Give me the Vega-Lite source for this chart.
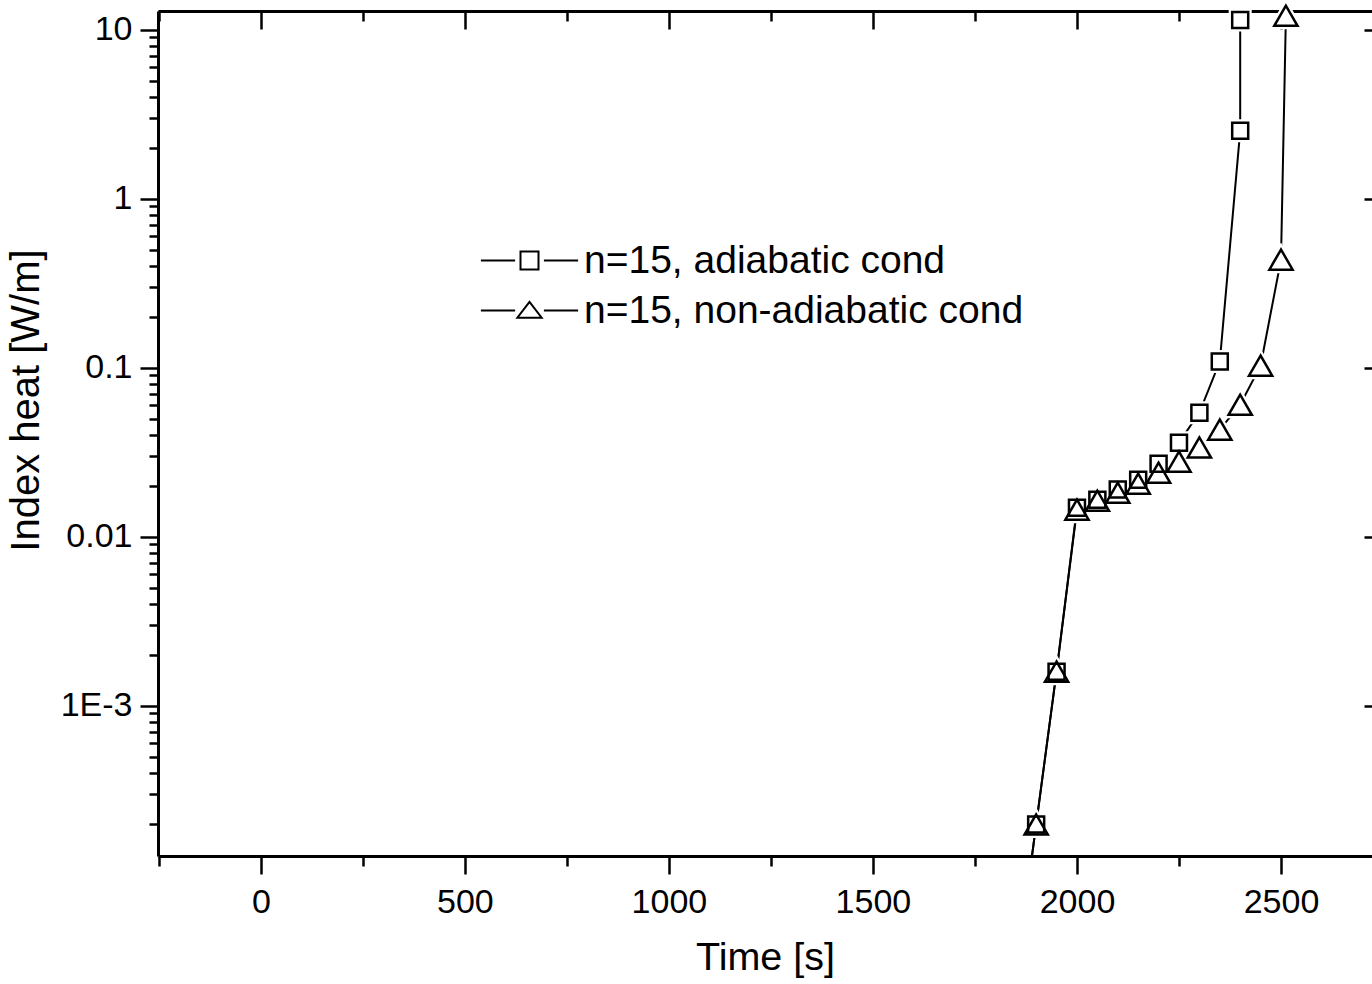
{
  "$schema": "https://vega.github.io/schema/vega-lite/v6.json",
  "width": 1214,
  "height": 845,
  "autosize": {"type": "none"},
  "padding": {"left": 158, "top": 11, "right": 0, "bottom": 128},
  "background": "white",
  "config": {
    "view": {"stroke": null},
    "font": "Liberation Sans",
    "axis": {
      "grid": false,
      "domainColor": "black",
      "tickColor": "black",
      "labelColor": "black",
      "titleColor": "black",
      "labelFont": "Liberation Sans",
      "titleFont": "Liberation Sans",
      "labelFontSize": 34,
      "titleFontSize": 39.5,
      "titleFontWeight": "normal",
      "domainWidth": 3,
      "tickWidth": 2.5,
      "labelFlush": false,
      "labelOverlap": false
    }
  },
  "data": {
    "values": [
      {"s": "n=15, adiabatic cond", "i": 0, "t": 1850, "q": 0.0000246},
      {"s": "n=15, adiabatic cond", "i": 1, "t": 1900, "q": 0.000198},
      {"s": "n=15, adiabatic cond", "i": 2, "t": 1950, "q": 0.00159},
      {"s": "n=15, adiabatic cond", "i": 3, "t": 2000, "q": 0.01485},
      {"s": "n=15, adiabatic cond", "i": 4, "t": 2050, "q": 0.01656},
      {"s": "n=15, adiabatic cond", "i": 5, "t": 2100, "q": 0.0190},
      {"s": "n=15, adiabatic cond", "i": 6, "t": 2150, "q": 0.0217},
      {"s": "n=15, adiabatic cond", "i": 7, "t": 2200, "q": 0.0270},
      {"s": "n=15, adiabatic cond", "i": 8, "t": 2250, "q": 0.0360},
      {"s": "n=15, adiabatic cond", "i": 9, "t": 2300, "q": 0.0542},
      {"s": "n=15, adiabatic cond", "i": 10, "t": 2350, "q": 0.1087},
      {"s": "n=15, adiabatic cond", "i": 11, "t": 2400, "q": 2.52},
      {"s": "n=15, adiabatic cond", "i": 12, "t": 2400, "q": 11.4},
      {"s": "n=15, non-adiabatic cond", "i": 0, "t": 1850, "q": 0.0000246},
      {"s": "n=15, non-adiabatic cond", "i": 1, "t": 1900, "q": 0.000198},
      {"s": "n=15, non-adiabatic cond", "i": 2, "t": 1950, "q": 0.00159},
      {"s": "n=15, non-adiabatic cond", "i": 3, "t": 2000, "q": 0.01445},
      {"s": "n=15, non-adiabatic cond", "i": 4, "t": 2050, "q": 0.01633},
      {"s": "n=15, non-adiabatic cond", "i": 5, "t": 2100, "q": 0.0182},
      {"s": "n=15, non-adiabatic cond", "i": 6, "t": 2150, "q": 0.0206},
      {"s": "n=15, non-adiabatic cond", "i": 7, "t": 2200, "q": 0.0239},
      {"s": "n=15, non-adiabatic cond", "i": 8, "t": 2250, "q": 0.0278},
      {"s": "n=15, non-adiabatic cond", "i": 9, "t": 2300, "q": 0.0337},
      {"s": "n=15, non-adiabatic cond", "i": 10, "t": 2350, "q": 0.0430},
      {"s": "n=15, non-adiabatic cond", "i": 11, "t": 2400, "q": 0.0604},
      {"s": "n=15, non-adiabatic cond", "i": 12, "t": 2450, "q": 0.1028},
      {"s": "n=15, non-adiabatic cond", "i": 13, "t": 2500, "q": 0.436},
      {"s": "n=15, non-adiabatic cond", "i": 14, "t": 2512, "q": 12.1}
    ]
  },
  "resolve": {"axis": {"x": "independent", "y": "independent"}},
  "layer": [
    {
      "mark": {"type": "line", "color": "black", "strokeWidth": 2, "clip": true},
      "encoding": {
        "x": {"field": "t", "type": "quantitative",
              "scale": {"domain": [-252, 2723], "nice": false, "zero": false},
              "axis": {"orient": "bottom", "values": [0, 500, 1000, 1500, 2000, 2500], "format": "d", "tickSize": 18, "labelPadding": 11, "title": "Time [s]", "titlePadding": 19, "domain": true}},
        "y": {"field": "q", "type": "quantitative",
              "scale": {"type": "log", "domain": [0.000129, 12.9], "nice": false, "zero": false},
              "axis": {"orient": "left", "values": [0.001, 0.01, 0.1, 1, 10], "tickSize": 18, "labelPadding": 8, "labelExpr": "datum.value < 0.005 ? '1E-3' : format(datum.value, '~g')", "title": "Index heat [W/m]", "titleFontSize": 40, "titleX": -112, "titleY": 389, "titleBaseline": "bottom", "titleAngle": -90, "titleAlign": "center", "domain": true}},
        "detail": {"field": "s"},
        "order": {"field": "i", "type": "quantitative"}
      }
    },
    {
      "transform": [{"filter": "datum.s == 'n=15, adiabatic cond' && datum.t >= 1900"}],
      "mark": {"type": "point", "shape": "square", "size": 256, "filled": true, "fill": "white", "stroke": "white", "strokeWidth": 7, "opacity": 1},
      "encoding": {
        "x": {"field": "t", "type": "quantitative",
              "axis": {"orient": "bottom", "values": [-250, 250, 750, 1250, 1750, 2250], "tickSize": 10, "labels": false, "domain": false, "title": null}},
        "y": {"field": "q", "type": "quantitative",
              "axis": {"orient": "left", "values": [0.0002, 0.0003, 0.0004, 0.0005, 0.0006, 0.0007, 0.0008, 0.0009, 0.002, 0.003, 0.004, 0.005, 0.006, 0.007, 0.008, 0.009, 0.02, 0.03, 0.04, 0.05, 0.06, 0.07, 0.08, 0.09, 0.2, 0.3, 0.4, 0.5, 0.6, 0.7, 0.8, 0.9, 2, 3, 4, 5, 6, 7, 8, 9], "tickSize": 9, "labels": false, "domain": false, "title": null}}
      }
    },
    {
      "transform": [{"filter": "datum.s == 'n=15, non-adiabatic cond' && datum.t >= 1900"}],
      "mark": {"type": "point", "shape": "triangle-up", "size": 540, "filled": true, "fill": "white", "stroke": "white", "strokeWidth": 7, "opacity": 1},
      "encoding": {
        "x": {"field": "t", "type": "quantitative",
              "axis": {"orient": "top", "values": [0, 500, 1000, 1500, 2000, 2500], "tickSize": -18, "labels": false, "domain": true, "title": null}},
        "y": {"field": "q", "type": "quantitative",
              "axis": {"orient": "right", "values": [0.001, 0.01, 0.1, 1, 10], "tickSize": -8, "labels": false, "domain": false, "title": null}}
      }
    },
    {
      "transform": [{"filter": "datum.s == 'n=15, adiabatic cond' && datum.t >= 1900"}],
      "mark": {"type": "point", "shape": "square", "size": 256, "filled": false, "stroke": "black", "strokeWidth": 2.5, "opacity": 1},
      "encoding": {
        "x": {"field": "t", "type": "quantitative",
              "axis": {"orient": "top", "values": [-250, 250, 750, 1250, 1750, 2250], "tickSize": -10, "labels": false, "domain": false, "title": null}},
        "y": {"field": "q", "type": "quantitative", "axis": null}
      }
    },
    {
      "transform": [{"filter": "datum.s == 'n=15, non-adiabatic cond' && datum.t >= 1900"}],
      "mark": {"type": "point", "shape": "triangle-up", "size": 540, "filled": false, "stroke": "black", "strokeWidth": 2.5, "opacity": 1},
      "encoding": {
        "x": {"field": "t", "type": "quantitative", "axis": null},
        "y": {"field": "q", "type": "quantitative", "axis": null}
      }
    },
    {
      "mark": {"type": "point", "opacity": 0, "clip": true},
      "encoding": {
        "x": {"field": "t", "type": "quantitative", "axis": null},
        "y": {"field": "q", "type": "quantitative", "axis": null},
        "shape": {
          "field": "s", "type": "nominal",
          "scale": {
            "domain": ["n=15, adiabatic cond", "n=15, non-adiabatic cond"],
            "range": ["M-5.4,0H-1.6M-1,-1H1V1H-1ZM1.6,0H5.4", "M-5.4,0H-1.6M-1.35,0.8L1.35,0.8L0,-0.95ZM1.6,0H5.4"]
          },
          "legend": {
            "title": null,
            "orient": "none",
            "legendX": 352,
            "legendY": 230,
            "padding": 0,
            "labelFont": "Liberation Sans",
            "labelFontSize": 39,
            "labelColor": "black",
            "labelOffset": 35,
            "labelLimit": 0,
            "rowPadding": 10,
            "symbolSize": 324,
            "symbolStrokeColor": "black",
            "symbolStrokeWidth": 2,
            "symbolFillColor": "transparent",
            "symbolOpacity": 1
          }
        }
      }
    }
  ]
}
